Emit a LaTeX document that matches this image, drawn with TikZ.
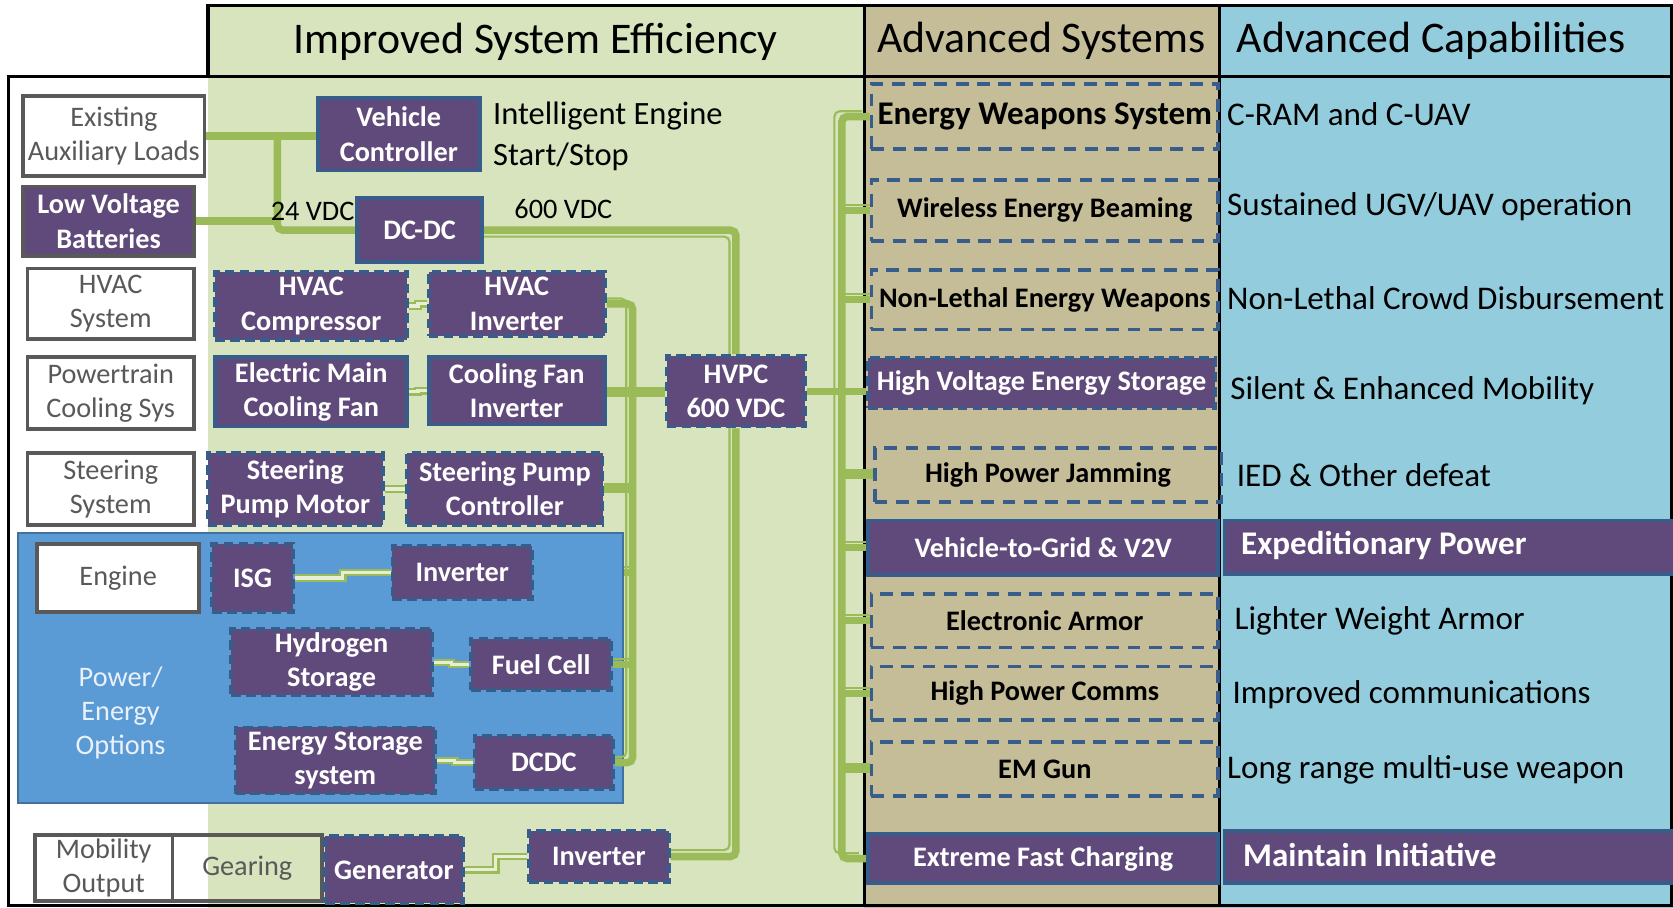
\documentclass[tikz,border=0pt]{standalone}
\usepackage{fontspec}
\setmainfont{Carlito}
\usetikzlibrary{calc}
\definecolor{lgreen}{HTML}{D7E4BD}
\definecolor{tanc}{HTML}{C4BD97}
\definecolor{lblue}{HTML}{93CDDD}
\definecolor{purp}{HTML}{604A7B}
\definecolor{bblue}{HTML}{385D8A}
\definecolor{gline}{HTML}{9BBB59}
\definecolor{pairin}{HTML}{E6EED5}
\definecolor{pblue}{HTML}{5B9BD5}
\definecolor{peb}{HTML}{41719C}
\definecolor{gbord}{HTML}{595959}
\definecolor{gtxt}{HTML}{595959}
\definecolor{petxt}{HTML}{EAF1FA}
\newcommand\fszA{\fontsize{26.5}{32}\selectfont}
\newcommand\fszB{\bfseries\fontsize{26.5}{32}\selectfont}
\newcommand\fszE{\bfseries\fontsize{31}{34}\selectfont}
\newcommand\fszH{\fontsize{41}{48}\selectfont}
\newcommand\fszC{\fontsize{31}{36}\selectfont}
\newcommand\fszCB{\bfseries\fontsize{31}{36}\selectfont}
\newcommand\fszI{\fontsize{30.5}{38}\selectfont}
\pgfdeclarelayer{bgl}
\pgfdeclarelayer{conl}
\pgfsetlayers{bgl,conl,main}
\newcommand\mybox[7]{\node[#2, anchor=north west, inner sep=0pt, minimum width=#5pt-#3pt, minimum height=#6pt-#4pt] (#1) at (#3,#4) {#7};}
\newcommand\comp[3]{\draw[gthick] #3; \draw[gthin, transform canvas={xshift=#1pt,yshift=#2pt}] #3;}
\newcommand\pairc[2]{\draw[pairl] (#1.east) -- ($(#1.east)!0.5!(#1.east -| #2.west)$) |- (#2.west);}
\begin{document}
\begin{tikzpicture}[x=1pt,y=-1pt,
  wbox/.style={draw=gbord, line width=3.5pt, fill=white, text=gtxt, font=\fszA, align=center},
  obox/.style={draw=gbord, line width=3.5pt, text=gtxt, font=\fszA, align=center},
  pbox/.style={draw=bblue, line width=3.5pt, fill=purp, text=white, font=\fszB, align=center},
  pdash/.style={pbox, dash pattern=on 9pt off 5pt},
  sdash/.style={draw=bblue, line width=3.5pt, dash pattern=on 12pt off 8pt, text=black, font=\fszB, align=center},
  gthick/.style={draw=gline, line width=7pt, rounded corners=5pt},
  gthin/.style={draw=gline, line width=2pt, rounded corners=5pt},
  pairl/.style={draw=gline, line width=2pt, double=pairin, double distance=3pt},
  frame/.style={draw=black, line width=3pt},
  lbl/.style={inner sep=0pt, font=\fszA, text=black},
  captxt/.style={inner sep=0pt, anchor=west, font=\fszC, text=black},
  captxtb/.style={inner sep=0pt, anchor=west, font=\fszCB, text=white}]
\useasboundingbox (0,0) rectangle (1568,851);
\begin{pgfonlayer}{bgl}
\fill[white] (0,0) rectangle (1568,851);
\fill[lgreen] (195,5) rectangle (810,851);
\fill[tanc] (810,5) rectangle (1143,851);
\fill[lblue] (1143,5) rectangle (1568,851);
\draw[frame] (195,72) -- (195,5) -- (1567,5) -- (1567,849) -- (8,849) -- (8,72) -- (1567,72);
\draw[frame] (810,5) -- (810,849);
\draw[frame] (1143,5) -- (1143,849);
\mybox{pe}{draw=peb, line width=1.5pt, fill=pblue}{16}{499}{583}{752}{}
\end{pgfonlayer}

% headers
\node[inner sep=0pt, font=\fszH] (h1) at (502,39) {Improved System Efficiency};
\node[inner sep=0pt, font=\fszH] (h2) at (976,38) {Advanced Systems};
\node[inner sep=0pt, font=\fszH, anchor=west] (h3) at (1159,38) {Advanced Capabilities};

% left column
\mybox{ex}{wbox}{20}{88}{190}{163}{Existing\\Auxiliary Loads}
\mybox{lv}{pbox, draw=gbord}{20}{173}{180}{238}{Low Voltage\\Batteries}
\mybox{hs}{wbox}{24}{250}{180}{316}{HVAC\\System}
\mybox{pc}{wbox}{24}{333}{180}{400}{Powertrain\\Cooling Sys}
\mybox{ss}{wbox}{24}{423}{180}{490}{Steering\\System}
\mybox{en}{wbox}{33}{508}{185}{572}{Engine}
\node[inner sep=0pt, font=\fszA, text=petxt, align=center] (pet) at (113,668) {Power/\\Energy\\Options};
\mybox{mo}{obox}{31}{781}{160}{843}{Mobility\\Output}
\mybox{ge}{obox}{160}{781}{300}{843}{Gearing}

% purple boxes
\mybox{vc}{pbox}{296}{90}{448}{158}{Vehicle\\Controller}
\mybox{dc}{pbox}{333}{184}{450}{244}{DC-DC}
\mybox{hc}{pdash}{200}{253}{380}{317}{HVAC\\Compressor}
\mybox{hi}{pdash}{400}{253}{565}{313}{HVAC\\Inverter}
\mybox{em}{pbox}{200}{333}{380}{398}{Electric Main\\Cooling Fan}
\mybox{ci}{pbox}{400}{333}{565}{396}{Cooling Fan\\Inverter}
\mybox{sm}{pdash}{193}{423}{357}{490}{Steering\\Pump Motor}
\mybox{sc}{pdash}{380}{423}{563}{490}{Steering Pump\\Controller}
\mybox{hv}{pdash}{623}{332}{753}{398}{HVPC\\600 VDC}
\mybox{isg}{pdash}{197}{508}{273}{572}{ISG}
\mybox{inva}{pdash}{366}{510}{497}{560}{Inverter}
\mybox{hy}{pdash}{215}{588}{403}{650}{Hydrogen\\Storage}
\mybox{fc}{pdash}{440}{597}{571}{645}{Fuel Cell}
\mybox{es}{pdash}{219}{680}{406}{742}{Energy Storage\\system}
\mybox{dd}{pdash}{443}{688}{573}{738}{DCDC}
\mybox{gen}{pdash}{303}{782}{432}{845}{Generator}
\mybox{invb}{pdash}{494}{777}{625}{825}{Inverter}

% labels
\node[lbl, anchor=west, align=left, font=\fszI] (ie) at (462,128) {Intelligent Engine\\Start/Stop};
\node[lbl] (v24) at (293,198) {24 VDC};
\node[lbl] (v600) at (528,196) {600 VDC};

% advanced systems
\mybox{ews}{sdash, font=\fszE}{815}{77}{1140}{138}{Energy Weapons System}
\mybox{web}{sdash}{815}{167}{1140}{224}{Wireless Energy Beaming}
\mybox{nlew}{sdash}{815}{251}{1140}{307}{Non-Lethal Energy Weapons}
\mybox{hves}{pdash}{812}{334}{1137}{381}{High Voltage Energy Storage}
\mybox{hpj}{sdash}{818}{418}{1143}{469}{High Power Jamming}
\mybox{vtg}{pbox}{812}{486}{1140}{537}{Vehicle-to-Grid \& V2V}
\mybox{ea}{sdash}{815}{555}{1140}{605}{Electronic Armor}
\mybox{hpc}{sdash}{815}{623}{1140}{673}{High Power Comms}
\mybox{emg}{sdash}{815}{694}{1140}{744}{EM Gun}
\mybox{efc}{pbox}{812}{780}{1140}{826}{Extreme Fast Charging}

% capabilities
\node[captxt] (c1) at (1150,107) {C-RAM and C-UAV};
\node[captxt] (c2) at (1150,194) {Sustained UGV/UAV operation};
\node[captxt] (c3) at (1150,279) {Non-Lethal Crowd Disbursement};
\node[captxt] (c4) at (1153,366) {Silent \& Enhanced Mobility};
\node[captxt] (c5) at (1159,445) {IED \& Other defeat};
\mybox{xp}{pbox}{1146}{486}{1575}{536}{}
\node[captxtb] (c6) at (1163,511) {Expeditionary Power};
\node[captxt] (c7) at (1157,582) {Lighter Weight Armor};
\node[captxt] (c8) at (1155,651) {Improved communications};
\node[captxt] (c9) at (1150,722) {Long range multi-use weapon};
\mybox{mi}{pbox}{1146}{777}{1575}{826}{}
\node[captxtb] (c10) at (1165,801) {Maintain Initiative};

% connectors
\begin{pgfonlayer}{conl}
\coordinate (j1) at (260,125.5);
\coordinate (bx) at (593,0);
\coordinate (rx) at (789,0);
\draw[gthick] (ex.east) -- (ex.east -| vc.west);
\draw[gthick] (j1) |- (dc.west);
\draw[gthick] (lv.east) -- (lv.east -| j1);
\comp{-6}{-6}{(dc.east) -| (hv.north)}
\comp{-6}{6}{(hv.south) |- (invb.east)}
\comp{-6}{5}{(hi.east) -| (bx |- dd.east) -- (dd.east)}
\comp{0}{-5}{(ci.east) -- (ci.east -| hv.west)}
\comp{0}{5}{(sc.east) -- (sc.east -| bx)}
\comp{0}{5}{(inva.east -| pe.east) -- (inva.east -| bx)}
\comp{0}{5}{(fc.east) -- (fc.east -| bx)}
\draw[gthick] (hv.east) -- (hv.east -| hves.west);
\comp{-7}{5}{(ews.west) -| (rx |- efc.west) -- (efc.west)}
\foreach \b in {web,nlew,hpj,vtg,ea,hpc,emg}{
  \comp{0}{5}{(rx |- \b.west) -- (\b.west)}
}
\pairc{hc}{hi}
\pairc{em}{ci}
\pairc{sm}{sc}
\pairc{isg}{inva}
\pairc{hy}{fc}
\pairc{es}{dd}
\pairc{gen}{invb}
\end{pgfonlayer}
\end{tikzpicture}
\end{document}
